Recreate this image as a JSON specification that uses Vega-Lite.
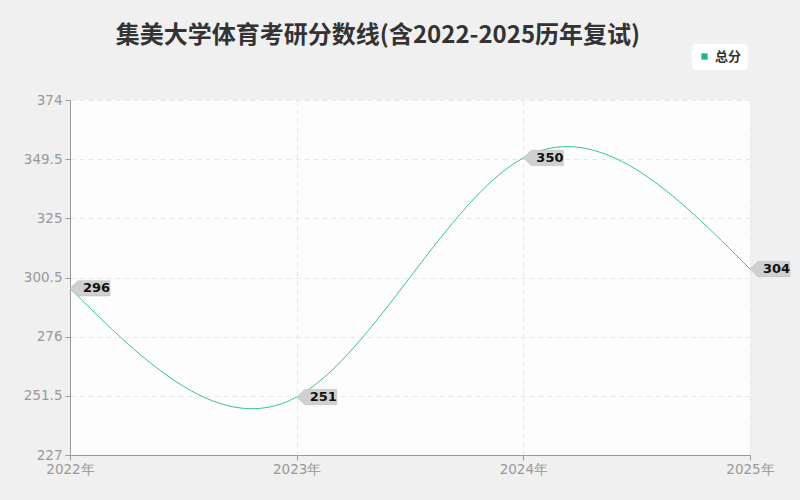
{
  "$schema": "https://vega.github.io/schema/vega-lite/v6.json",
  "width": 680,
  "height": 355,
  "autosize": {"type": "none"},
  "padding": {"left": 70, "top": 100, "right": 50, "bottom": 45},
  "background": "#f0f0f0",
  "title": {
    "text": "集美大学体育考研分数线(含2022-2025历年复试)",
    "font": "Noto Sans CJK SC",
    "fontSize": 24,
    "fontWeight": "bold",
    "color": "#333333",
    "anchor": "middle",
    "frame": "group",
    "dx": -32,
    "offset": -4
  },
  "config": {
    "view": {"fill": "#fdfdfd", "stroke": null},
    "axis": {
      "labelFont": "DejaVu Sans",
      "labelFontSize": 13.5,
      "labelColor": "#999999",
      "domainColor": "#999999",
      "tickColor": "#999999",
      "gridColor": "#e6e6e6",
      "gridDash": [5, 4],
      "title": null
    }
  },
  "data": {
    "values": [
      {"year": 2022, "score": 296, "series": "总分"},
      {"year": 2023, "score": 251, "series": "总分"},
      {"year": 2024, "score": 350, "series": "总分"},
      {"year": 2025, "score": 304, "series": "总分"}
    ]
  },
  "encoding": {
    "x": {
      "field": "year",
      "type": "quantitative",
      "scale": {"domain": [2022, 2025], "nice": false, "zero": false},
      "axis": {
        "values": [2022, 2023, 2024, 2025],
        "labelExpr": "datum.value + '年'",
        "labelFlush": false,
        "labelOverlap": false,
        "tickSize": 5,
        "labelPadding": 2
      }
    },
    "y": {
      "field": "score",
      "type": "quantitative",
      "scale": {"domain": [227, 374], "nice": false, "zero": false},
      "axis": {
        "values": [227, 251.5, 276, 300.5, 325, 349.5, 374],
        "labelExpr": "'' + datum.value",
        "tickSize": 5,
        "labelPadding": 3
      }
    }
  },
  "layer": [
    {
      "mark": {"type": "line", "interpolate": "natural", "strokeWidth": 1, "clip": false},
      "encoding": {
        "color": {
          "field": "series",
          "type": "nominal",
          "scale": {"range": ["#36c497"]},
          "legend": {
            "title": null,
            "orient": "none",
            "legendX": 622,
            "legendY": -56,
            "fillColor": "#ffffff",
            "cornerRadius": 4,
            "padding": 6,
            "symbolType": "square",
            "symbolSize": 30,
            "symbolFillColor": "#1db884",
            "symbolStrokeColor": "#1db884",
            "symbolStrokeWidth": 1,
            "labelFont": "Noto Sans CJK SC",
            "labelFontSize": 13,
            "labelFontWeight": "bold",
            "labelColor": "#333333"
          }
        }
      }
    },
    {
      "mark": {
        "type": "point",
        "filled": true,
        "fill": "#d0d0d0",
        "stroke": "#b8b8b8",
        "strokeWidth": 0.5,
        "opacity": 1,
        "size": 1600,
        "shape": "M0,0 L0.4,-0.38 L2.0,-0.38 L2.0,0.38 L0.4,0.38 Z",
        "clip": false
      }
    },
    {
      "mark": {
        "type": "text",
        "align": "left",
        "baseline": "middle",
        "dx": 13,
        "dy": 0,
        "font": "DejaVu Sans",
        "fontSize": 13,
        "fontWeight": "bold",
        "color": "#111111",
        "clip": false
      },
      "encoding": {"text": {"field": "score", "type": "quantitative"}}
    }
  ]
}
